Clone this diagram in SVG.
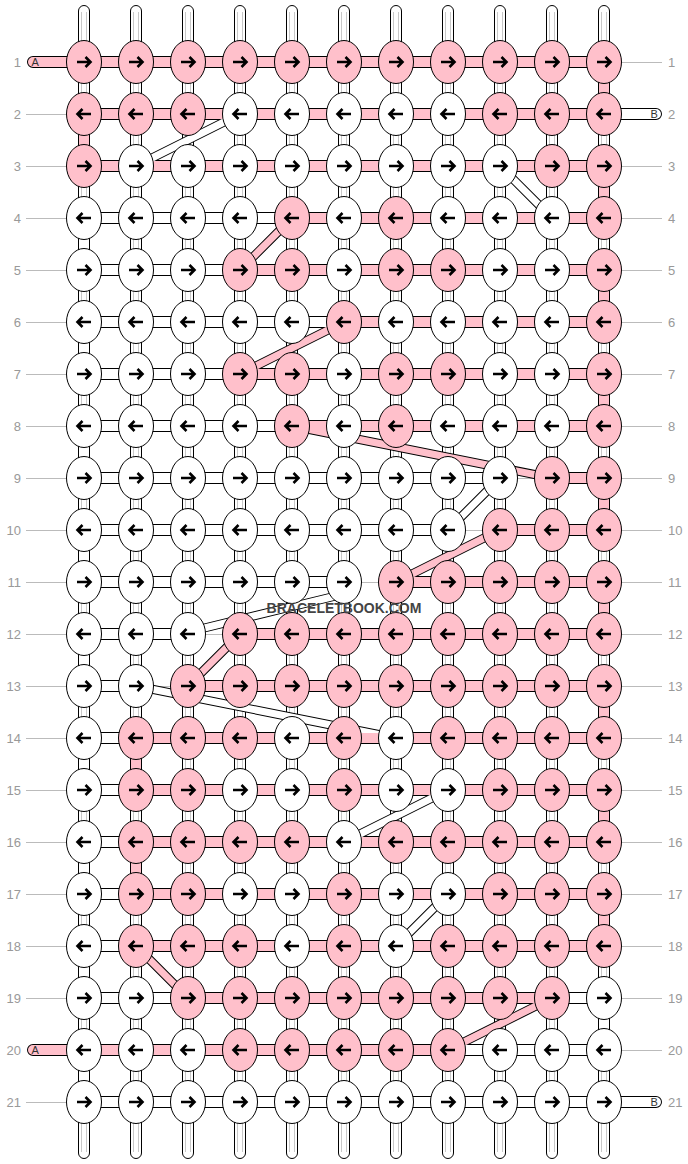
<svg xmlns="http://www.w3.org/2000/svg" xmlns:xlink="http://www.w3.org/1999/xlink" width="688" height="1164" viewBox="0 0 688 1164">
<style>
.pk{fill:#ffc0cb;stroke:#000;stroke-width:1}
.wh{fill:#fff;stroke:#000;stroke-width:1}
.arr{fill:none;stroke:#000;stroke-width:2.6}
.warp{fill:#fff;stroke:#000;stroke-width:1}
.wline{fill:none;stroke:#c8c8c8;stroke-width:1}
.ol{fill:none;stroke:#000;stroke-width:12}
.olr{fill:none;stroke:#000;stroke-width:12;stroke-linecap:round}
.olt{fill:none;stroke:#000;stroke-width:9}
.fp{fill:none;stroke:#ffc0cb;stroke-width:10}
.fw{fill:none;stroke:#fff;stroke-width:10}
.fpr{fill:none;stroke:#ffc0cb;stroke-width:10;stroke-linecap:round}
.fwr{fill:none;stroke:#fff;stroke-width:10;stroke-linecap:round}
.tp{fill:none;stroke:#ffc0cb;stroke-width:7}
.tw{fill:none;stroke:#fff;stroke-width:7}
.gl{fill:none;stroke:#bbb;stroke-width:1}
.lbl{font-family:"Liberation Sans",Arial,sans-serif;font-size:13px;fill:#999}
.pl{font-family:"Liberation Sans",Arial,sans-serif;font-size:11px;fill:#333}
.wm{font-family:"Liberation Sans",Arial,sans-serif;font-size:14px;font-weight:bold;fill:#444}
</style>
<defs>
<path id="ar" class="arr" d="M-7,0H6M1.5,-5L6.5,0L1.5,5"/>
<path id="al" class="arr" d="M7,0H-6M-1.5,-5L-6.5,0L-1.5,5"/>
<g id="PR"><ellipse class="pk" rx="17.5" ry="21.5"/><use href="#ar"/></g>
<g id="PL"><ellipse class="pk" rx="17.5" ry="21.5"/><use href="#al"/></g>
<g id="WR"><ellipse class="wh" rx="17.5" ry="21.5"/><use href="#ar"/></g>
<g id="WL"><ellipse class="wh" rx="17.5" ry="21.5"/><use href="#al"/></g>
</defs>
<rect width="688" height="1164" fill="#fff"/>
<g id="labels">
<path class="gl" d="M26,114.5H66M26,166.5H66M26,218.5H66M26,270.5H66M26,322.5H66M26,374.5H66M26,426.5H66M26,478.5H66M26,530.5H66M26,582.5H66M26,634.5H66M26,686.5H66M26,738.5H66M26,790.5H66M26,842.5H66M26,894.5H66M26,946.5H66M26,998.5H66M26,1102.5H66"/>
<path class="gl" d="M622,62.5H662M622,166.5H662M622,218.5H662M622,270.5H662M622,322.5H662M622,374.5H662M622,426.5H662M622,478.5H662M622,530.5H662M622,582.5H662M622,634.5H662M622,686.5H662M622,738.5H662M622,790.5H662M622,842.5H662M622,894.5H662M622,946.5H662M622,998.5H662M622,1050.5H662"/>
<g class="lbl" text-anchor="end">
<text x="21" y="66.5">1</text><text x="21" y="118.5">2</text><text x="21" y="170.5">3</text><text x="21" y="222.5">4</text><text x="21" y="274.5">5</text><text x="21" y="326.5">6</text><text x="21" y="378.5">7</text><text x="21" y="430.5">8</text><text x="21" y="482.5">9</text><text x="21" y="534.5">10</text><text x="21" y="586.5">11</text><text x="21" y="638.5">12</text><text x="21" y="690.5">13</text><text x="21" y="742.5">14</text><text x="21" y="794.5">15</text><text x="21" y="846.5">16</text><text x="21" y="898.5">17</text><text x="21" y="950.5">18</text><text x="21" y="1002.5">19</text><text x="21" y="1054.5">20</text><text x="21" y="1106.5">21</text>
</g>
<g class="lbl">
<text x="668" y="66.5">1</text><text x="668" y="118.5">2</text><text x="668" y="170.5">3</text><text x="668" y="222.5">4</text><text x="668" y="274.5">5</text><text x="668" y="326.5">6</text><text x="668" y="378.5">7</text><text x="668" y="430.5">8</text><text x="668" y="482.5">9</text><text x="668" y="534.5">10</text><text x="668" y="586.5">11</text><text x="668" y="638.5">12</text><text x="668" y="690.5">13</text><text x="668" y="742.5">14</text><text x="668" y="794.5">15</text><text x="668" y="846.5">16</text><text x="668" y="898.5">17</text><text x="668" y="950.5">18</text><text x="668" y="1002.5">19</text><text x="668" y="1054.5">20</text><text x="668" y="1106.5">21</text>
</g>
</g>
<g id="connectors">
<g id="warps">
<rect class="warp" x="78.5" y="5.5" width="11" height="1153" rx="5.5"/>
<rect class="warp" x="130.5" y="5.5" width="11" height="1153" rx="5.5"/>
<rect class="warp" x="182.5" y="5.5" width="11" height="1153" rx="5.5"/>
<rect class="warp" x="234.5" y="5.5" width="11" height="1153" rx="5.5"/>
<rect class="warp" x="286.5" y="5.5" width="11" height="1153" rx="5.5"/>
<rect class="warp" x="338.5" y="5.5" width="11" height="1153" rx="5.5"/>
<rect class="warp" x="390.5" y="5.5" width="11" height="1153" rx="5.5"/>
<rect class="warp" x="442.5" y="5.5" width="11" height="1153" rx="5.5"/>
<rect class="warp" x="494.5" y="5.5" width="11" height="1153" rx="5.5"/>
<rect class="warp" x="546.5" y="5.5" width="11" height="1153" rx="5.5"/>
<rect class="warp" x="598.5" y="5.5" width="11" height="1153" rx="5.5"/>
<path class="wline" d="M81.5,12V1152M86.5,12V1152M133.5,12V1152M138.5,12V1152M185.5,12V1152M190.5,12V1152M237.5,12V1152M242.5,12V1152M289.5,12V1152M294.5,12V1152M341.5,12V1152M346.5,12V1152M393.5,12V1152M398.5,12V1152M445.5,12V1152M450.5,12V1152M497.5,12V1152M502.5,12V1152M549.5,12V1152M554.5,12V1152M601.5,12V1152M606.5,12V1152"/>
</g>
<path class="gl" d="M517.5,478.5H534.5M465.5,530.5H482.5M361.5,582.5H378.5M205.5,634.5H222.5M153.5,686.5H170.5"/>
<g id="outlines">
<path class="ol" d="M84,62H604M84,114H604M84,166H604M292,218H604M240,270H604M344,322H604M240,374H604M292,426H604M552,478H604M500,530H604M396,582H604M240,634H604M188,686H604M136,738H604M136,790H604M136,842H604M136,894H604M136,946H604M188,998H552M84,1050H448M84,114V166M136,738V790M136,842V894M604,62V114M604,166V218M604,270V322M604,374V426M604,478V530M604,582V634M604,686V738M604,790V842M604,894V946M84,218H292M84,270H240M84,322H344M84,374H240M84,426H292M84,478H500M84,530H448M84,582H344M84,634H188M84,686H136M84,738H136M84,790H136M84,842H136M84,894H136M84,946H136M84,998H188M552,998H604M448,1050H604M84,1102H604M84,218V270M84,322V374M84,426V478M84,530V582M84,634V686M84,738V790M84,842V894M84,946V998M84,1050V1102M604,998V1050"/>
<path class="olr" d="M33,62H84M33,1050H84M604,114H656M604,1102H656"/>
<path class="olt" d="M240,114L136,166M500,166L552,218M500,478L448,530M344,594L188,632M136,686L396,738M448,790L344,842M448,894L396,946M292,218L240,270M344,322L240,374M292,426L552,478M500,530L396,582M240,634L188,686M136,946L188,998M552,998L448,1050"/>
</g>
<g id="fills">
<path class="tw" d="M240,114L136,166M500,166L552,218M500,478L448,530M344,594L188,632M136,686L396,738M448,790L344,842M448,894L396,946"/>
<path class="fw" d="M84,218H292M84,270H240M84,322H344M84,374H240M84,426H292M84,478H500M84,530H448M84,582H344M84,634H188M84,686H136M84,738H136M84,790H136M84,842H136M84,894H136M84,946H136M84,998H188M552,998H604M448,1050H604M84,1102H604M84,218V270M84,322V374M84,426V478M84,530V582M84,634V686M84,738V790M84,842V894M84,946V998M84,1050V1102M604,998V1050"/>
<path class="fwr" d="M604,114H656M604,1102H656"/>
<path class="fp" d="M84,62H604M84,114H604M84,166H604M292,218H604M240,270H604M344,322H604M240,374H604M292,426H604M552,478H604M500,530H604M396,582H604M240,634H604M188,686H604M136,738H604M136,790H604M136,842H604M136,894H604M136,946H604M188,998H552M84,1050H448M84,114V166M136,738V790M136,842V894M604,62V114M604,166V218M604,270V322M604,374V426M604,478V530M604,582V634M604,686V738M604,790V842M604,894V946"/>
<path class="fpr" d="M33,62H84M33,1050H84"/>
<path class="tp" d="M292,218L240,270M344,322L240,374M292,426L552,478M500,530L396,582M240,634L188,686M136,946L188,998M552,998L448,1050"/>
</g>
<text class="pl" x="31.5" y="66">A</text>
<text class="pl" x="31.5" y="1054">A</text>
<text class="pl" x="650.5" y="118">B</text>
<text class="pl" x="650.5" y="1106">B</text>
</g>
<g id="nodes">
<g id="n1-1"><use href="#PR" x="84" y="62"/></g><g id="n1-2"><use href="#PR" x="136" y="62"/></g><g id="n1-3"><use href="#PR" x="188" y="62"/></g><g id="n1-4"><use href="#PR" x="240" y="62"/></g><g id="n1-5"><use href="#PR" x="292" y="62"/></g><g id="n1-6"><use href="#PR" x="344" y="62"/></g><g id="n1-7"><use href="#PR" x="396" y="62"/></g><g id="n1-8"><use href="#PR" x="448" y="62"/></g><g id="n1-9"><use href="#PR" x="500" y="62"/></g><g id="n1-10"><use href="#PR" x="552" y="62"/></g><g id="n1-11"><use href="#PR" x="604" y="62"/></g>
<g id="n2-1"><use href="#PL" x="84" y="114"/></g><g id="n2-2"><use href="#PL" x="136" y="114"/></g><g id="n2-3"><use href="#PL" x="188" y="114"/></g><g id="n2-4"><use href="#WL" x="240" y="114"/></g><g id="n2-5"><use href="#WL" x="292" y="114"/></g><g id="n2-6"><use href="#WL" x="344" y="114"/></g><g id="n2-7"><use href="#WL" x="396" y="114"/></g><g id="n2-8"><use href="#WL" x="448" y="114"/></g><g id="n2-9"><use href="#PL" x="500" y="114"/></g><g id="n2-10"><use href="#PL" x="552" y="114"/></g><g id="n2-11"><use href="#PL" x="604" y="114"/></g>
<g id="n3-1"><use href="#PR" x="84" y="166"/></g><g id="n3-2"><use href="#WR" x="136" y="166"/></g><g id="n3-3"><use href="#WR" x="188" y="166"/></g><g id="n3-4"><use href="#WR" x="240" y="166"/></g><g id="n3-5"><use href="#WR" x="292" y="166"/></g><g id="n3-6"><use href="#WR" x="344" y="166"/></g><g id="n3-7"><use href="#WR" x="396" y="166"/></g><g id="n3-8"><use href="#WR" x="448" y="166"/></g><g id="n3-9"><use href="#WR" x="500" y="166"/></g><g id="n3-10"><use href="#PR" x="552" y="166"/></g><g id="n3-11"><use href="#PR" x="604" y="166"/></g>
<g id="n4-1"><use href="#WL" x="84" y="218"/></g><g id="n4-2"><use href="#WL" x="136" y="218"/></g><g id="n4-3"><use href="#WL" x="188" y="218"/></g><g id="n4-4"><use href="#WL" x="240" y="218"/></g><g id="n4-5"><use href="#PL" x="292" y="218"/></g><g id="n4-6"><use href="#WL" x="344" y="218"/></g><g id="n4-7"><use href="#PL" x="396" y="218"/></g><g id="n4-8"><use href="#WL" x="448" y="218"/></g><g id="n4-9"><use href="#WL" x="500" y="218"/></g><g id="n4-10"><use href="#WL" x="552" y="218"/></g><g id="n4-11"><use href="#PL" x="604" y="218"/></g>
<g id="n5-1"><use href="#WR" x="84" y="270"/></g><g id="n5-2"><use href="#WR" x="136" y="270"/></g><g id="n5-3"><use href="#WR" x="188" y="270"/></g><g id="n5-4"><use href="#PR" x="240" y="270"/></g><g id="n5-5"><use href="#PR" x="292" y="270"/></g><g id="n5-6"><use href="#WR" x="344" y="270"/></g><g id="n5-7"><use href="#PR" x="396" y="270"/></g><g id="n5-8"><use href="#PR" x="448" y="270"/></g><g id="n5-9"><use href="#WR" x="500" y="270"/></g><g id="n5-10"><use href="#WR" x="552" y="270"/></g><g id="n5-11"><use href="#PR" x="604" y="270"/></g>
<g id="n6-1"><use href="#WL" x="84" y="322"/></g><g id="n6-2"><use href="#WL" x="136" y="322"/></g><g id="n6-3"><use href="#WL" x="188" y="322"/></g><g id="n6-4"><use href="#WL" x="240" y="322"/></g><g id="n6-5"><use href="#WL" x="292" y="322"/></g><g id="n6-6"><use href="#PL" x="344" y="322"/></g><g id="n6-7"><use href="#WL" x="396" y="322"/></g><g id="n6-8"><use href="#WL" x="448" y="322"/></g><g id="n6-9"><use href="#WL" x="500" y="322"/></g><g id="n6-10"><use href="#WL" x="552" y="322"/></g><g id="n6-11"><use href="#PL" x="604" y="322"/></g>
<g id="n7-1"><use href="#WR" x="84" y="374"/></g><g id="n7-2"><use href="#WR" x="136" y="374"/></g><g id="n7-3"><use href="#WR" x="188" y="374"/></g><g id="n7-4"><use href="#PR" x="240" y="374"/></g><g id="n7-5"><use href="#PR" x="292" y="374"/></g><g id="n7-6"><use href="#WR" x="344" y="374"/></g><g id="n7-7"><use href="#PR" x="396" y="374"/></g><g id="n7-8"><use href="#PR" x="448" y="374"/></g><g id="n7-9"><use href="#WR" x="500" y="374"/></g><g id="n7-10"><use href="#WR" x="552" y="374"/></g><g id="n7-11"><use href="#PR" x="604" y="374"/></g>
<g id="n8-1"><use href="#WL" x="84" y="426"/></g><g id="n8-2"><use href="#WL" x="136" y="426"/></g><g id="n8-3"><use href="#WL" x="188" y="426"/></g><g id="n8-4"><use href="#WL" x="240" y="426"/></g><g id="n8-5"><use href="#PL" x="292" y="426"/></g><g id="n8-6"><use href="#WL" x="344" y="426"/></g><g id="n8-7"><use href="#PL" x="396" y="426"/></g><g id="n8-8"><use href="#WL" x="448" y="426"/></g><g id="n8-9"><use href="#WL" x="500" y="426"/></g><g id="n8-10"><use href="#WL" x="552" y="426"/></g><g id="n8-11"><use href="#PL" x="604" y="426"/></g>
<g id="n9-1"><use href="#WR" x="84" y="478"/></g><g id="n9-2"><use href="#WR" x="136" y="478"/></g><g id="n9-3"><use href="#WR" x="188" y="478"/></g><g id="n9-4"><use href="#WR" x="240" y="478"/></g><g id="n9-5"><use href="#WR" x="292" y="478"/></g><g id="n9-6"><use href="#WR" x="344" y="478"/></g><g id="n9-7"><use href="#WR" x="396" y="478"/></g><g id="n9-8"><use href="#WR" x="448" y="478"/></g><g id="n9-9"><use href="#WR" x="500" y="478"/></g><g id="n9-10"><use href="#PR" x="552" y="478"/></g><g id="n9-11"><use href="#PR" x="604" y="478"/></g>
<g id="n10-1"><use href="#WL" x="84" y="530"/></g><g id="n10-2"><use href="#WL" x="136" y="530"/></g><g id="n10-3"><use href="#WL" x="188" y="530"/></g><g id="n10-4"><use href="#WL" x="240" y="530"/></g><g id="n10-5"><use href="#WL" x="292" y="530"/></g><g id="n10-6"><use href="#WL" x="344" y="530"/></g><g id="n10-7"><use href="#WL" x="396" y="530"/></g><g id="n10-8"><use href="#WL" x="448" y="530"/></g><g id="n10-9"><use href="#PL" x="500" y="530"/></g><g id="n10-10"><use href="#PL" x="552" y="530"/></g><g id="n10-11"><use href="#PL" x="604" y="530"/></g>
<g id="n11-1"><use href="#WR" x="84" y="582"/></g><g id="n11-2"><use href="#WR" x="136" y="582"/></g><g id="n11-3"><use href="#WR" x="188" y="582"/></g><g id="n11-4"><use href="#WR" x="240" y="582"/></g><g id="n11-5"><use href="#WR" x="292" y="582"/></g><g id="n11-6"><use href="#WR" x="344" y="582"/></g><g id="n11-7"><use href="#PR" x="396" y="582"/></g><g id="n11-8"><use href="#PR" x="448" y="582"/></g><g id="n11-9"><use href="#PR" x="500" y="582"/></g><g id="n11-10"><use href="#PR" x="552" y="582"/></g><g id="n11-11"><use href="#PR" x="604" y="582"/></g>
<g id="n12-1"><use href="#WL" x="84" y="634"/></g><g id="n12-2"><use href="#WL" x="136" y="634"/></g><g id="n12-3"><use href="#WL" x="188" y="634"/></g><g id="n12-4"><use href="#PL" x="240" y="634"/></g><g id="n12-5"><use href="#PL" x="292" y="634"/></g><g id="n12-6"><use href="#PL" x="344" y="634"/></g><g id="n12-7"><use href="#PL" x="396" y="634"/></g><g id="n12-8"><use href="#PL" x="448" y="634"/></g><g id="n12-9"><use href="#PL" x="500" y="634"/></g><g id="n12-10"><use href="#PL" x="552" y="634"/></g><g id="n12-11"><use href="#PL" x="604" y="634"/></g>
<g id="n13-1"><use href="#WR" x="84" y="686"/></g><g id="n13-2"><use href="#WR" x="136" y="686"/></g><g id="n13-3"><use href="#PR" x="188" y="686"/></g><g id="n13-4"><use href="#PR" x="240" y="686"/></g><g id="n13-5"><use href="#PR" x="292" y="686"/></g><g id="n13-6"><use href="#PR" x="344" y="686"/></g><g id="n13-7"><use href="#PR" x="396" y="686"/></g><g id="n13-8"><use href="#PR" x="448" y="686"/></g><g id="n13-9"><use href="#PR" x="500" y="686"/></g><g id="n13-10"><use href="#PR" x="552" y="686"/></g><g id="n13-11"><use href="#PR" x="604" y="686"/></g>
<g id="n14-1"><use href="#WL" x="84" y="738"/></g><g id="n14-2"><use href="#PL" x="136" y="738"/></g><g id="n14-3"><use href="#PL" x="188" y="738"/></g><g id="n14-4"><use href="#PL" x="240" y="738"/></g><g id="n14-5"><use href="#WL" x="292" y="738"/></g><g id="n14-6"><use href="#PL" x="344" y="738"/></g><g id="n14-7"><use href="#WL" x="396" y="738"/></g><g id="n14-8"><use href="#PL" x="448" y="738"/></g><g id="n14-9"><use href="#PL" x="500" y="738"/></g><g id="n14-10"><use href="#PL" x="552" y="738"/></g><g id="n14-11"><use href="#PL" x="604" y="738"/></g>
<g id="n15-1"><use href="#WR" x="84" y="790"/></g><g id="n15-2"><use href="#PR" x="136" y="790"/></g><g id="n15-3"><use href="#PR" x="188" y="790"/></g><g id="n15-4"><use href="#WR" x="240" y="790"/></g><g id="n15-5"><use href="#WR" x="292" y="790"/></g><g id="n15-6"><use href="#PR" x="344" y="790"/></g><g id="n15-7"><use href="#WR" x="396" y="790"/></g><g id="n15-8"><use href="#WR" x="448" y="790"/></g><g id="n15-9"><use href="#PR" x="500" y="790"/></g><g id="n15-10"><use href="#PR" x="552" y="790"/></g><g id="n15-11"><use href="#PR" x="604" y="790"/></g>
<g id="n16-1"><use href="#WL" x="84" y="842"/></g><g id="n16-2"><use href="#PL" x="136" y="842"/></g><g id="n16-3"><use href="#PL" x="188" y="842"/></g><g id="n16-4"><use href="#PL" x="240" y="842"/></g><g id="n16-5"><use href="#PL" x="292" y="842"/></g><g id="n16-6"><use href="#WL" x="344" y="842"/></g><g id="n16-7"><use href="#PL" x="396" y="842"/></g><g id="n16-8"><use href="#PL" x="448" y="842"/></g><g id="n16-9"><use href="#PL" x="500" y="842"/></g><g id="n16-10"><use href="#PL" x="552" y="842"/></g><g id="n16-11"><use href="#PL" x="604" y="842"/></g>
<g id="n17-1"><use href="#WR" x="84" y="894"/></g><g id="n17-2"><use href="#PR" x="136" y="894"/></g><g id="n17-3"><use href="#PR" x="188" y="894"/></g><g id="n17-4"><use href="#WR" x="240" y="894"/></g><g id="n17-5"><use href="#WR" x="292" y="894"/></g><g id="n17-6"><use href="#PR" x="344" y="894"/></g><g id="n17-7"><use href="#WR" x="396" y="894"/></g><g id="n17-8"><use href="#WR" x="448" y="894"/></g><g id="n17-9"><use href="#PR" x="500" y="894"/></g><g id="n17-10"><use href="#PR" x="552" y="894"/></g><g id="n17-11"><use href="#PR" x="604" y="894"/></g>
<g id="n18-1"><use href="#WL" x="84" y="946"/></g><g id="n18-2"><use href="#PL" x="136" y="946"/></g><g id="n18-3"><use href="#PL" x="188" y="946"/></g><g id="n18-4"><use href="#PL" x="240" y="946"/></g><g id="n18-5"><use href="#WL" x="292" y="946"/></g><g id="n18-6"><use href="#PL" x="344" y="946"/></g><g id="n18-7"><use href="#WL" x="396" y="946"/></g><g id="n18-8"><use href="#PL" x="448" y="946"/></g><g id="n18-9"><use href="#PL" x="500" y="946"/></g><g id="n18-10"><use href="#PL" x="552" y="946"/></g><g id="n18-11"><use href="#PL" x="604" y="946"/></g>
<g id="n19-1"><use href="#WR" x="84" y="998"/></g><g id="n19-2"><use href="#WR" x="136" y="998"/></g><g id="n19-3"><use href="#PR" x="188" y="998"/></g><g id="n19-4"><use href="#PR" x="240" y="998"/></g><g id="n19-5"><use href="#PR" x="292" y="998"/></g><g id="n19-6"><use href="#PR" x="344" y="998"/></g><g id="n19-7"><use href="#PR" x="396" y="998"/></g><g id="n19-8"><use href="#PR" x="448" y="998"/></g><g id="n19-9"><use href="#PR" x="500" y="998"/></g><g id="n19-10"><use href="#PR" x="552" y="998"/></g><g id="n19-11"><use href="#WR" x="604" y="998"/></g>
<g id="n20-1"><use href="#WL" x="84" y="1050"/></g><g id="n20-2"><use href="#WL" x="136" y="1050"/></g><g id="n20-3"><use href="#WL" x="188" y="1050"/></g><g id="n20-4"><use href="#PL" x="240" y="1050"/></g><g id="n20-5"><use href="#PL" x="292" y="1050"/></g><g id="n20-6"><use href="#PL" x="344" y="1050"/></g><g id="n20-7"><use href="#PL" x="396" y="1050"/></g><g id="n20-8"><use href="#PL" x="448" y="1050"/></g><g id="n20-9"><use href="#WL" x="500" y="1050"/></g><g id="n20-10"><use href="#WL" x="552" y="1050"/></g><g id="n20-11"><use href="#WL" x="604" y="1050"/></g>
<g id="n21-1"><use href="#WR" x="84" y="1102"/></g><g id="n21-2"><use href="#WR" x="136" y="1102"/></g><g id="n21-3"><use href="#WR" x="188" y="1102"/></g><g id="n21-4"><use href="#WR" x="240" y="1102"/></g><g id="n21-5"><use href="#WR" x="292" y="1102"/></g><g id="n21-6"><use href="#WR" x="344" y="1102"/></g><g id="n21-7"><use href="#WR" x="396" y="1102"/></g><g id="n21-8"><use href="#WR" x="448" y="1102"/></g><g id="n21-9"><use href="#WR" x="500" y="1102"/></g><g id="n21-10"><use href="#WR" x="552" y="1102"/></g><g id="n21-11"><use href="#WR" x="604" y="1102"/></g>
</g>
<text class="wm" x="344" y="613" text-anchor="middle">BRACELETBOOK.COM</text>
</svg>
